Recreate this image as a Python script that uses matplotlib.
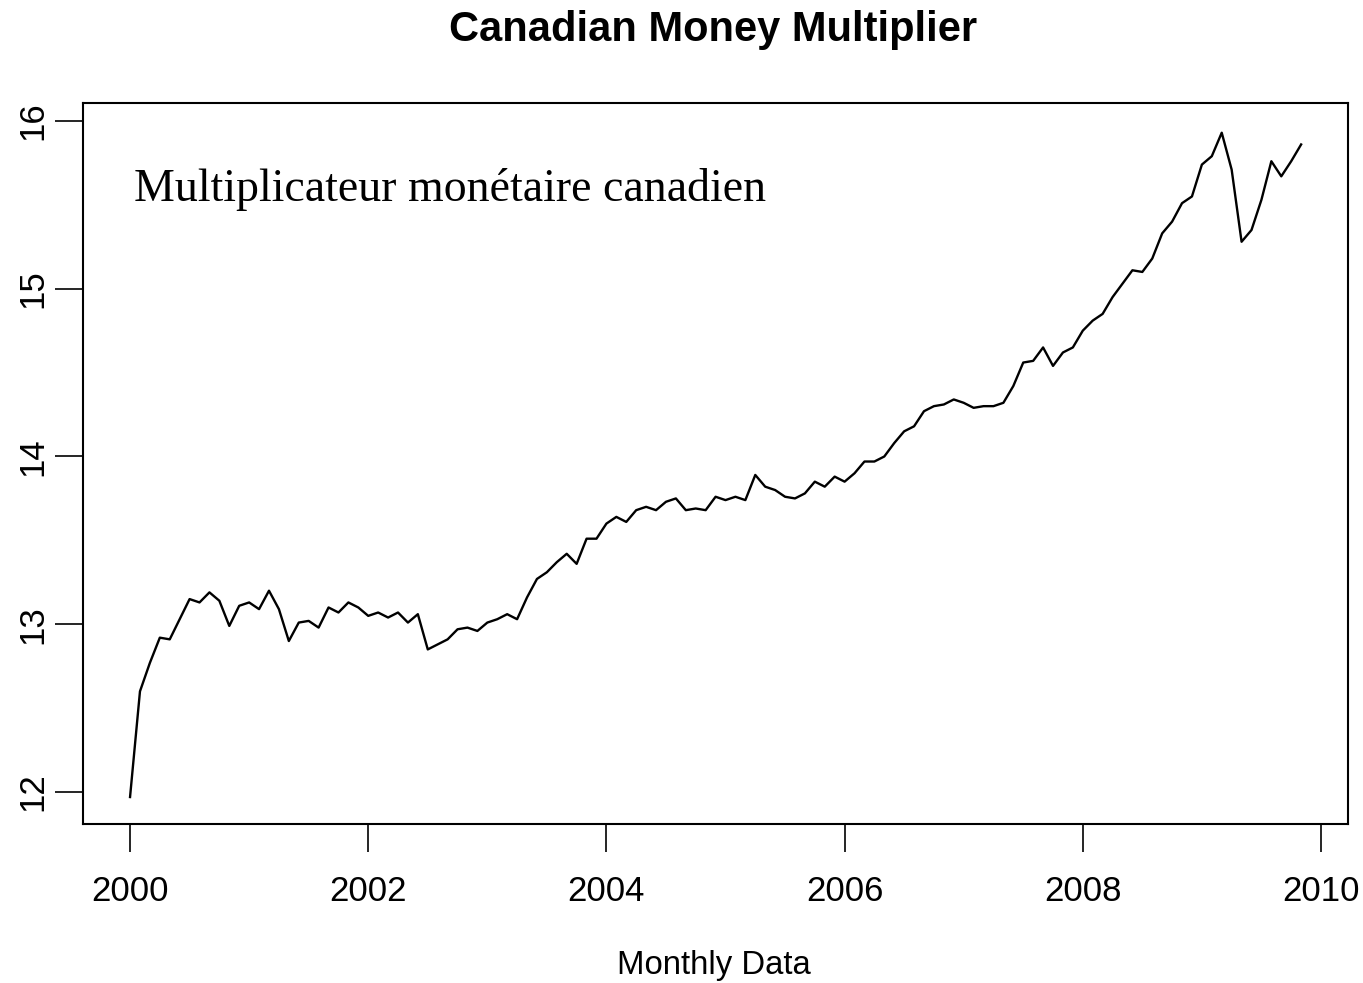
import matplotlib
matplotlib.use('Agg')
import matplotlib.pyplot as plt
import numpy as np

# monthly money multiplier, Jan 2000 .. Nov 2009
multiplier = [
    11.97, 12.60, 12.77, 12.92, 12.91, 13.03, 13.15, 13.13, 13.19, 13.14, 12.99, 13.11,
    13.13, 13.09, 13.20, 13.09, 12.90, 13.01, 13.02, 12.98, 13.10, 13.07, 13.13, 13.10,
    13.05, 13.07, 13.04, 13.07, 13.01, 13.06, 12.85, 12.88, 12.91, 12.97, 12.98, 12.96,
    13.01, 13.03, 13.06, 13.03, 13.16, 13.27, 13.31, 13.37, 13.42, 13.36, 13.51, 13.51,
    13.60, 13.64, 13.61, 13.68, 13.70, 13.68, 13.73, 13.75, 13.68, 13.69, 13.68, 13.76,
    13.74, 13.76, 13.74, 13.89, 13.82, 13.80, 13.76, 13.75, 13.78, 13.85, 13.82, 13.88,
    13.85, 13.90, 13.97, 13.97, 14.00, 14.08, 14.15, 14.18, 14.27, 14.30, 14.31, 14.34,
    14.32, 14.29, 14.30, 14.30, 14.32, 14.42, 14.56, 14.57, 14.65, 14.54, 14.62, 14.65,
    14.75, 14.81, 14.85, 14.95, 15.03, 15.11, 15.10, 15.18, 15.33, 15.40, 15.51, 15.55,
    15.74, 15.79, 15.93, 15.71, 15.28, 15.35, 15.53, 15.76, 15.67, 15.76, 15.86,
]
start_year = 2000
x_ticks = [2000, 2002, 2004, 2006, 2008, 2010]
y_ticks = [12, 13, 14, 15, 16]

t = start_year + np.arange(len(multiplier)) / 12.0

fig = plt.figure(figsize=(13.63, 9.83), dpi=100)
ax = fig.add_axes([0.0609, 0.1617, 0.9281, 0.7335])

ax.plot(t, multiplier, color='black', lw=1.7)

ax.set_xlim(1999.605, 2010.227)
ax.set_ylim(11.809, 16.107)

ax.set_xticks(x_ticks)
ax.set_yticks(y_ticks)
ax.tick_params(axis='both', length=20, width=1.2, direction='out',
               labelsize=25, colors='black')
ax.tick_params(axis='x', pad=17)
ax.tick_params(axis='y', pad=4)
for lab in ax.get_yticklabels():
    lab.set_rotation(90)
    lab.set_va('center')
    lab.set_family('Liberation Sans')
for lab in ax.get_xticklabels():
    lab.set_family('Liberation Sans')

for sp in ax.spines.values():
    sp.set_linewidth(1.5)

fig.text(0.523, 0.969, 'Canadian Money Multiplier', ha='center', va='center',
         fontsize=30, fontweight='bold', family='Liberation Sans')
fig.text(0.524, 0.018, 'Monthly Data', ha='center', va='center',
         fontsize=23.7, family='Liberation Sans')

ax.text(0.04, 0.88, 'Multiplicateur monétaire canadien', transform=ax.transAxes,
        ha='left', va='center', fontsize=33, family='Liberation Serif')

fig.savefig('out.png', dpi=100, facecolor='white')
